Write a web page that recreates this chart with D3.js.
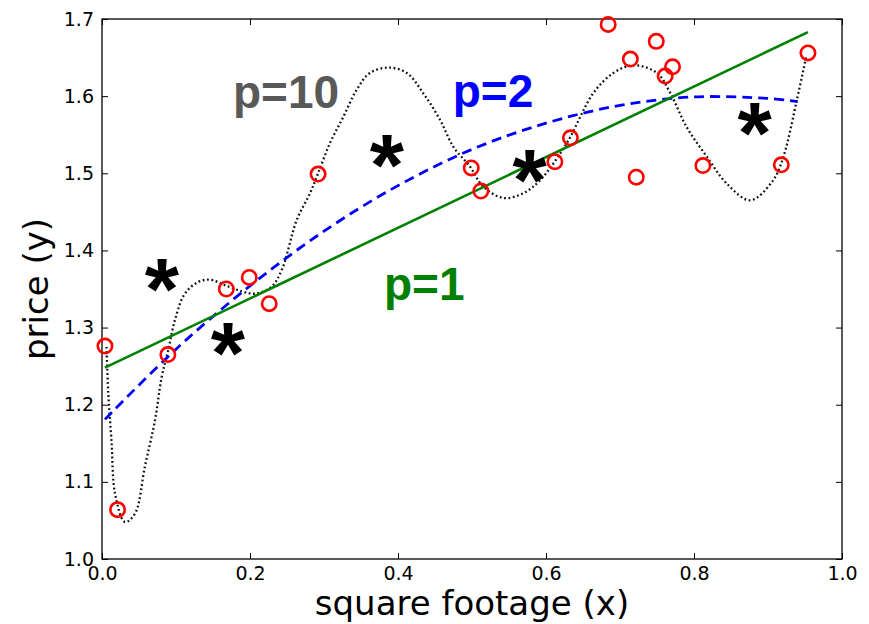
<!DOCTYPE html>
<html>
<head>
<meta charset="utf-8">
<script src="https://cdn.jsdelivr.net/npm/d3@7"></script>
<style>
  body { margin: 0; background: #fff; }
  svg { display: block; }
  .tick text { font-family: "DejaVu Sans", sans-serif; }
</style>
</head>
<body>
<svg id="chart" width="869" height="624"></svg>
<script>
// training points (red circles)
var trainX = [0.004, 0.021, 0.089, 0.168, 0.199, 0.226, 0.292, 0.499, 0.512, 0.612,
              0.633, 0.684, 0.714, 0.722, 0.749, 0.761, 0.771, 0.812, 0.918, 0.954];
var trainY = [1.276, 1.064, 1.265, 1.350, 1.365, 1.331, 1.499, 1.507, 1.477, 1.515,
              1.546, 1.693, 1.648, 1.495, 1.671, 1.626, 1.638, 1.510, 1.511, 1.656];

// test points (stars)
var testX = [0.081, 0.170, 0.385, 0.578, 0.882];
var testY = [1.367, 1.284, 1.528, 1.508, 1.569];

// p=1 fit
var fit1X = [0.004, 0.954];
var fit1Y = [1.248, 1.683];

// p=2 fit
var fit2X = [0.004, 0.1, 0.2, 0.3, 0.4, 0.5, 0.6, 0.7, 0.8, 0.9, 0.94];
var fit2Y = [1.181, 1.272, 1.354, 1.425, 1.484, 1.531, 1.565, 1.588, 1.599, 1.597, 1.593];

// p=10 fit
var fit10X = [0.006, 0.0085, 0.013, 0.0176, 0.031, 0.0446, 0.058, 0.0716, 0.0807, 0.0896,
              0.0986, 0.112, 0.130, 0.146, 0.166, 0.189, 0.207, 0.229, 0.243, 0.263,
              0.281, 0.292, 0.308, 0.326, 0.344, 0.362, 0.387, 0.412, 0.434, 0.457,
              0.475, 0.497, 0.515, 0.542, 0.569, 0.592, 0.628, 0.664, 0.691, 0.718,
              0.750, 0.768, 0.790, 0.817, 0.844, 0.876, 0.907, 0.921, 0.939, 0.952];
var fit10Y = [1.275, 1.215, 1.150, 1.085, 1.048, 1.059, 1.120, 1.180, 1.236, 1.271,
              1.310, 1.344, 1.359, 1.362, 1.355, 1.347, 1.344, 1.353, 1.375, 1.439,
              1.474, 1.500, 1.539, 1.573, 1.608, 1.630, 1.637, 1.630, 1.604, 1.569,
              1.534, 1.509, 1.483, 1.468, 1.474, 1.491, 1.539, 1.604, 1.630, 1.640,
              1.630, 1.604, 1.560, 1.522, 1.487, 1.465, 1.491, 1.522, 1.595, 1.653];

var xTicks = [0.0, 0.2, 0.4, 0.6, 0.8, 1.0];
var yTicks = [1.0, 1.1, 1.2, 1.3, 1.4, 1.5, 1.6, 1.7];

var svg = d3.select('#chart');
var margin = {left: 102, right: 842, top: 19, bottom: 559};

var x = d3.scaleLinear().domain([0, 1]).range([margin.left, margin.right]);
var y = d3.scaleLinear().domain([1.0, 1.7]).range([margin.bottom, margin.top]);

function zip(xs, ys) {
    return xs.map(function (d, i) { return [d, ys[i]]; });
}

// axes, ticks pointing inward
var fmt = d3.format('.1f');
svg.append('g')
    .attr('transform', 'translate(0,' + margin.bottom + ')')
    .call(d3.axisBottom(x).tickValues(xTicks).tickFormat(fmt).tickSizeInner(-6).tickSizeOuter(0).tickPadding(8));
svg.append('g')
    .attr('transform', 'translate(0,' + margin.top + ')')
    .call(d3.axisTop(x).tickValues(xTicks).tickFormat('').tickSizeInner(-6).tickSizeOuter(0));
svg.append('g')
    .attr('transform', 'translate(' + margin.left + ',0)')
    .call(d3.axisLeft(y).tickValues(yTicks).tickFormat(fmt).tickSizeInner(-6).tickSizeOuter(0).tickPadding(8));
svg.append('g')
    .attr('transform', 'translate(' + margin.right + ',0)')
    .call(d3.axisRight(y).tickValues(yTicks).tickFormat('').tickSizeInner(-6).tickSizeOuter(0));

svg.selectAll('.domain').remove();
svg.selectAll('.tick line').attr('stroke', '#000');
svg.selectAll('.tick text').attr('font-size', 19).attr('fill', '#000');

svg.append('rect')
    .attr('x', margin.left).attr('y', margin.top)
    .attr('width', margin.right - margin.left).attr('height', margin.bottom - margin.top)
    .attr('fill', 'none').attr('stroke', '#000').attr('stroke-width', 1.3);

// fitted curves
var line = d3.line()
    .x(function (d) { return x(d[0]); })
    .y(function (d) { return y(d[1]); });

svg.append('path')
    .datum(zip(fit10X, fit10Y))
    .attr('d', line.curve(d3.curveCatmullRom))
    .attr('fill', 'none').attr('stroke', '#111')
    .attr('stroke-width', 2.3).attr('stroke-dasharray', '1.8,2.6');

svg.append('path')
    .datum(zip(fit2X, fit2Y))
    .attr('d', line.curve(d3.curveCatmullRom))
    .attr('fill', 'none').attr('stroke', '#0000ff')
    .attr('stroke-width', 2.8).attr('stroke-dasharray', '10,6');

svg.append('path')
    .datum(zip(fit1X, fit1Y))
    .attr('d', line.curve(d3.curveLinear))
    .attr('fill', 'none').attr('stroke', '#008000')
    .attr('stroke-width', 2.6);

// red circles
svg.append('g').selectAll('circle')
    .data(zip(trainX, trainY))
    .enter()
    .append('circle')
    .attr('cx', function (d) { return x(d[0]); })
    .attr('cy', function (d) { return y(d[1]); })
    .attr('r', 7.2)
    .attr('fill', 'none').attr('stroke', '#ff0000').attr('stroke-width', 2.6);

// stars
svg.append('g').selectAll('text')
    .data(zip(testX, testY))
    .enter()
    .append('text')
    .attr('x', function (d) { return x(d[0]); })
    .attr('y', function (d) { return y(d[1]) + 43; })
    .attr('text-anchor', 'middle')
    .attr('font-family', 'Liberation Sans, Arial, sans-serif')
    .attr('font-weight', 'bold')
    .attr('font-size', 88)
    .text('*');

// labels for fits
var labels = svg.append('g')
    .attr('font-family', 'Liberation Sans, Arial, sans-serif')
    .attr('font-weight', 'bold')
    .attr('font-size', 46);
labels.append('text').attr('x', x(0.177)).attr('y', y(1.585)).attr('fill', '#595959').text('p=10');
labels.append('text').attr('x', x(0.474)).attr('y', y(1.5855)).attr('fill', '#0000ff').text('p=2');
labels.append('text').attr('x', x(0.381)).attr('y', y(1.336)).attr('fill', '#008000').text('p=1');

// axis titles
svg.append('text')
    .attr('x', (margin.left + margin.right) / 2).attr('y', 615)
    .attr('text-anchor', 'middle')
    .attr('font-family', 'DejaVu Sans, sans-serif')
    .attr('font-size', 34)
    .text('square footage (x)');
svg.append('text')
    .attr('transform', 'translate(48,' + (margin.top + margin.bottom) / 2 + ') rotate(-90)')
    .attr('text-anchor', 'middle')
    .attr('font-family', 'DejaVu Sans, sans-serif')
    .attr('font-size', 34)
    .text('price (y)');
</script>
</body>
</html>
